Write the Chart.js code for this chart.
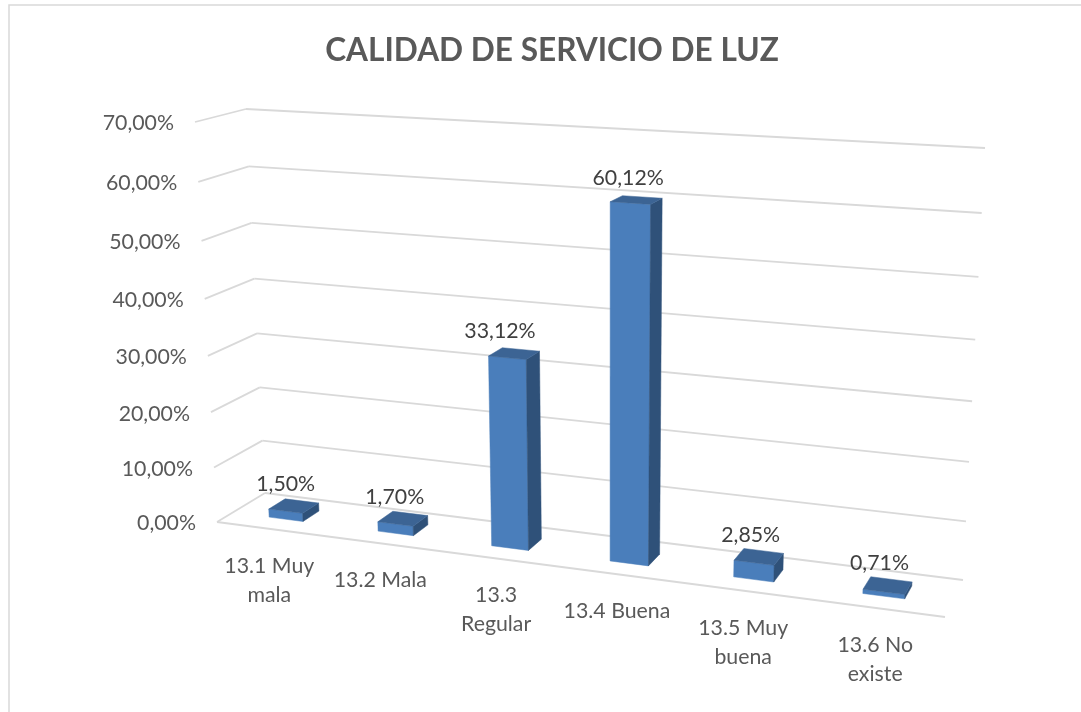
<!DOCTYPE html>
<html><head><meta charset="utf-8">
<style>html,body{margin:0;padding:0;background:#fff}canvas{display:block}</style>
<script src="https://cdn.jsdelivr.net/npm/chart.js@4"></script>
</head><body><canvas id="c" width="1081" height="712"></canvas>
<script>
const categories = [["13.1 Muy","mala"],["13.2 Mala"],["13.3","Regular"],["13.4 Buena"],["13.5 Muy","buena"],["13.6 No","existe"]];
const values = [1.50,1.70,33.12,60.12,2.85,0.71];
const yMax = 70, yStep = 10;
const titleText = "CALIDAD DE SERVICIO DE LUZ";

// projective "3D" frame of the chart: front and back planes as quads (u,v) -> screen
function homography(q){
  const [[x0,y0],[x1,y1],[x2,y2],[x3,y3]] = q;
  const sx=x0-x1+x2-x3, sy=y0-y1+y2-y3, dx1=x1-x2, dx2=x3-x2, dy1=y1-y2, dy2=y3-y2;
  const det=dx1*dy2-dx2*dy1, g=(sx*dy2-dx2*sy)/det, h=(dx1*sy-sx*dy1)/det;
  const a=x1-x0+g*x1, b=x3-x0+h*x3, d=y1-y0+g*y1, e=y3-y0+h*y3;
  return (u,v)=>{const w=g*u+h*v+1;return [(a*u+b*v+x0)/w,(d*u+e*v+y0)/w];};
}
const front = homography([[217,522],[945,617],[967,164],[195,122]]);
const back  = homography([[265,493],[963,580],[985,148],[246,109]]);
function P(u,v,d){const f=front(u,v),b=back(u,v);return [f[0]+(b[0]-f[0])*d,f[1]+(b[1]-f[1])*d];}
const D0=0.33, D1=0.68;
const GRID='#d9d9d9', TXT='#595959', LBL='#404040';
const FRONT='#4a7ebb', TOP='#3c6494', SIDE='#2f5179';
const labelNudge=[0,0,-6,0,0,0];
const FONT='21.3px Lato';

function poly(ctx,pts,fill){ctx.beginPath();pts.forEach((p,i)=>i?ctx.lineTo(p[0],p[1]):ctx.moveTo(p[0],p[1]));ctx.closePath();ctx.fillStyle=fill;ctx.fill();ctx.strokeStyle=fill;ctx.lineWidth=0.5;ctx.stroke();}
function seg(ctx,a,b){ctx.beginPath();ctx.moveTo(a[0],a[1]);ctx.lineTo(b[0],b[1]);ctx.stroke();}

const perspective = {
  id:'perspective',
  beforeDraw(chart){
    const ctx=chart.ctx, ys=chart.scales.y, ca=chart.chartArea;
    const V=val=>(ca.bottom-ys.getPixelForValue(val))/(ca.bottom-ca.top);
    ctx.save();
    // frame
    ctx.strokeStyle=GRID;ctx.lineWidth=1.5;
    ctx.beginPath();ctx.moveTo(9,712);ctx.lineTo(9,5);ctx.lineTo(1081,5);ctx.stroke();
    // grid + y tick labels
    ctx.lineWidth=1.8;ctx.font=FONT;ctx.textAlign='right';ctx.textBaseline='middle';
    ys.ticks.forEach(t=>{
      const v=V(t.value);
      ctx.strokeStyle=GRID;
      seg(ctx,P(0,v,0),P(0,v,1));
      seg(ctx,P(0,v,1),P(1,v,1));
      const p=P(0,v,0);
      ctx.fillStyle=TXT;
      ctx.fillText(t.value.toFixed(2).replace('.',',')+'%',p[0]-21,p[1]+1.5);
    });
    ctx.strokeStyle=GRID;
    seg(ctx,P(0,0,0),P(1,0,0));
    // category labels
    const xs=chart.scales.x, uc=x=>(x-ca.left)/(ca.right-ca.left);
    ctx.textAlign='center';ctx.fillStyle=TXT;
    categories.forEach((lines,i)=>{
      const p=P(uc(xs.getPixelForValue(i)),0,0);
      lines.forEach((s,j)=>ctx.fillText(s,p[0]-1.5,p[1]+37+j*29));
    });
    ctx.restore();
  },
  beforeDatasetDraw(chart,args){
    const ctx=chart.ctx, ca=chart.chartArea, W=ca.right-ca.left, H=ca.bottom-ca.top;
    ctx.save();
    args.meta.data.forEach((bar,i)=>{
      const u0=(bar.x-bar.width/2-ca.left)/W, u1=(bar.x+bar.width/2-ca.left)/W;
      const v=(ca.bottom-bar.y)/H, v0=(ca.bottom-bar.base)/H;
      const a=P(u0,v,D0),b=P(u1,v,D0),c=P(u1,v,D1),d=P(u0,v,D1);
      const a0=P(u0,v0,D0),b0=P(u1,v0,D0),c0=P(u1,v0,D1);
      poly(ctx,[a,b,b0,a0],FRONT);
      poly(ctx,[b,c,c0,b0],SIDE);
      poly(ctx,[a,b,c,d],TOP);
      const cx=(a[0]+c[0])/2, cy=(a[1]+c[1])/2;
      ctx.fillStyle=LBL;ctx.font=FONT;ctx.textAlign='center';ctx.textBaseline='middle';
      ctx.fillText(values[i].toFixed(2).replace('.',',')+'%',cx-8+labelNudge[i],cy-22);
    });
    ctx.restore();
    return false;
  }
};

new Chart(document.getElementById('c'),{
  type:'bar',
  data:{labels:categories,datasets:[{label:titleText,data:values,backgroundColor:FRONT,barPercentage:0.315,categoryPercentage:1}]},
  options:{
    responsive:false,animation:false,
    layout:{padding:{left:23,right:0,top:32,bottom:0}},
    plugins:{legend:{display:false},tooltip:{enabled:false},
      title:{display:true,text:titleText,color:TXT,font:{family:'Lato',size:31.6,weight:'bold'},padding:{top:0,bottom:10}}},
    scales:{
      x:{display:false,type:'category'},
      y:{display:false,min:0,max:yMax,ticks:{stepSize:yStep}}
    }
  },
  plugins:[perspective]
});
</script></body></html>
